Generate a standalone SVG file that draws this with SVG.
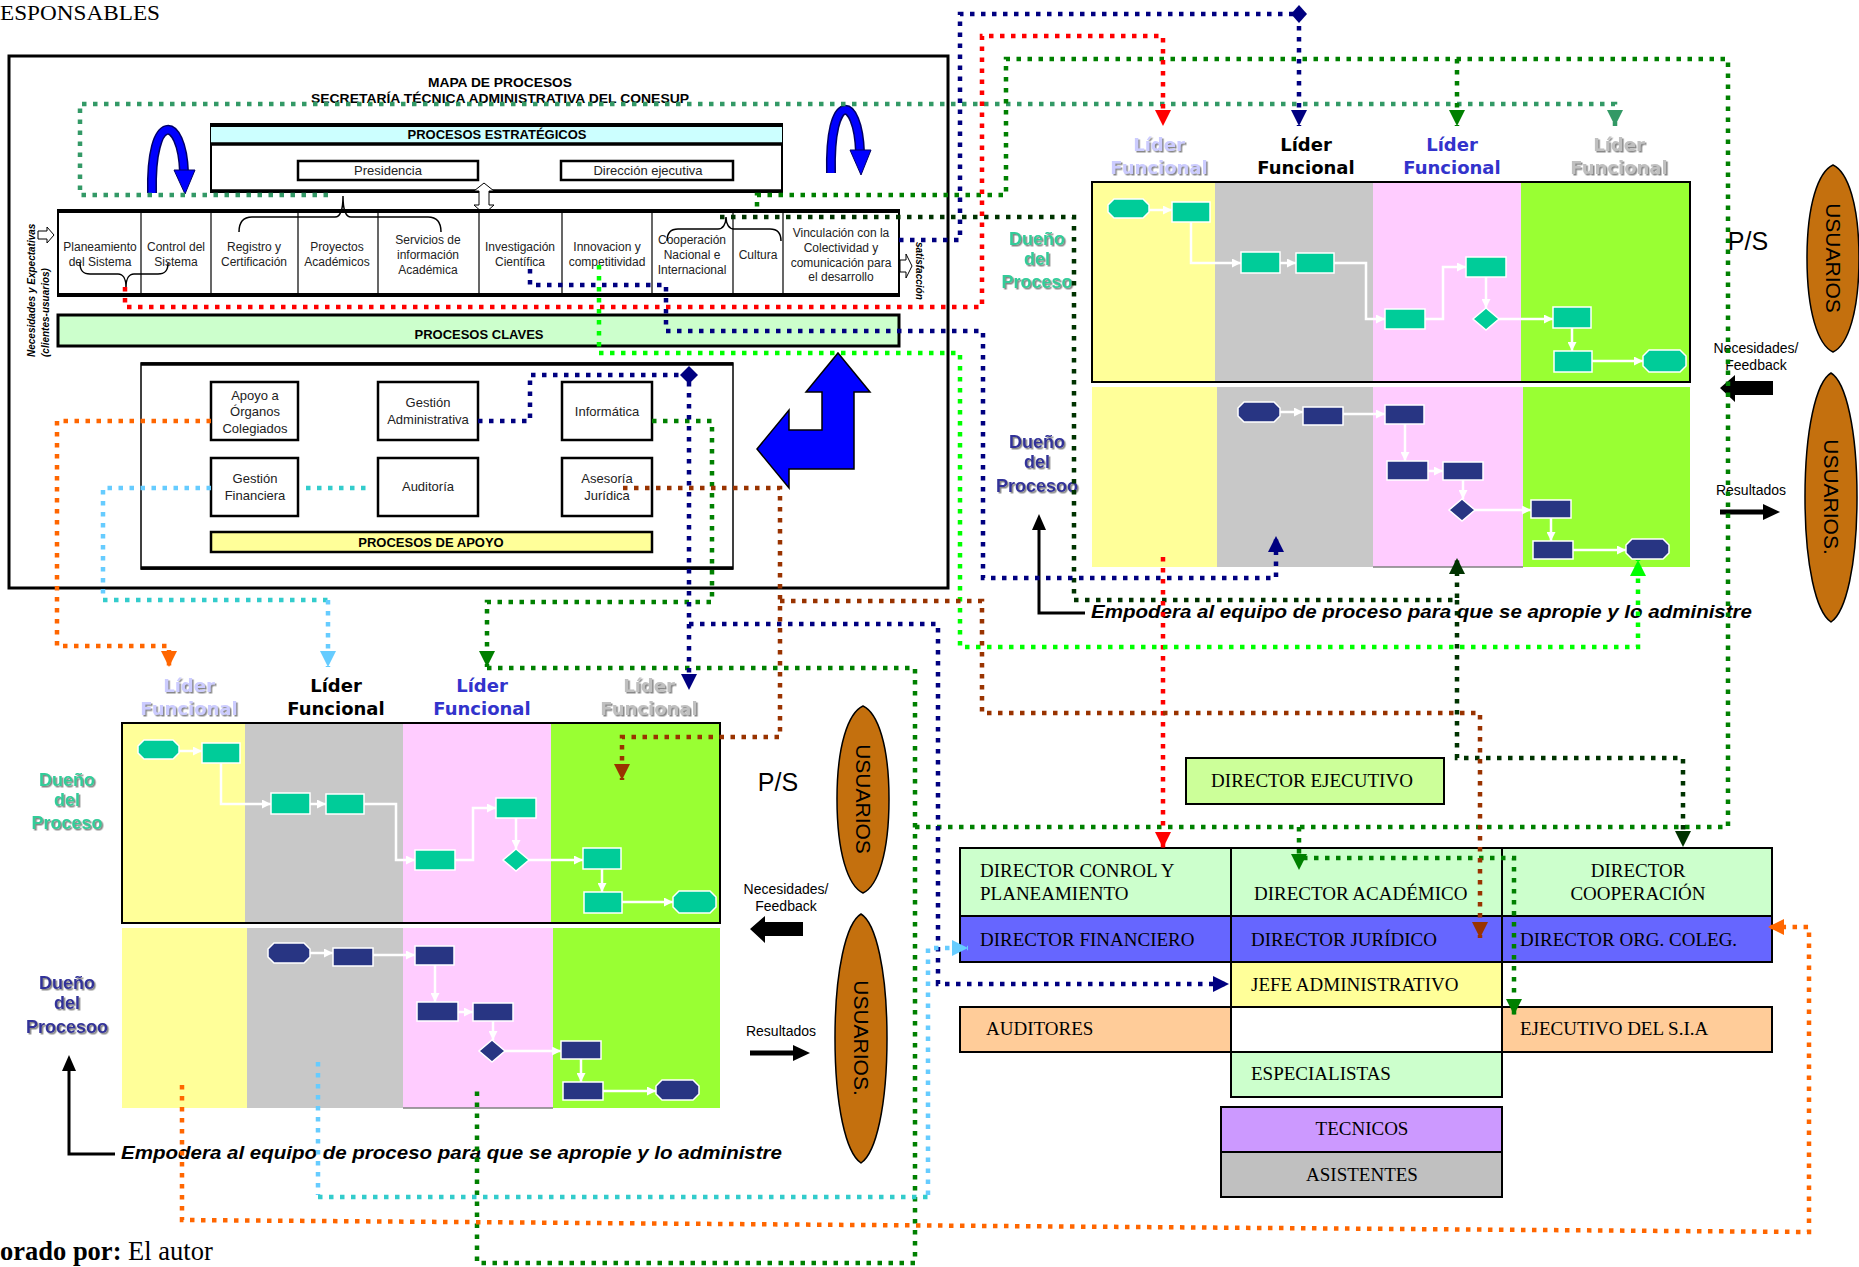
<svg xmlns="http://www.w3.org/2000/svg" xmlns:xlink="http://www.w3.org/1999/xlink" width="1859" height="1267" viewBox="0 0 1859 1267">
<style>
  .pm{font-family:"Liberation Sans",Arial,sans-serif;font-size:12px;fill:#222;text-anchor:middle}
  .sb{font-family:"Liberation Sans",Arial,sans-serif;font-size:13px;fill:#222;text-anchor:middle}
  .band{font-family:"Liberation Sans",Arial,sans-serif;font-size:13px;font-weight:bold;fill:#000;text-anchor:middle}
  .box{fill:#fff;stroke:#000;stroke-width:2.5}
  .thin{fill:none;stroke:#000;stroke-width:1.5}
  .org{stroke:#000;stroke-width:2}
  .ot{font-family:"Liberation Serif","Times New Roman",serif;font-size:19px;fill:#000}
  .dot{fill:none;stroke-width:4.5;stroke-dasharray:4.5 6.5}
  .wl{fill:none;stroke:#fff;stroke-width:2.5;marker-end:url(#ar-w)}
  .teal{fill:#00CC99;stroke:#fff;stroke-width:1.5}
  .nvf{fill:#283583;stroke:#fff;stroke-width:1.5}
  .lider{font-family:"DejaVu Sans",Verdana,sans-serif;font-size:18px;font-weight:bold;text-anchor:middle}
  .dueno{font-family:"Liberation Sans",Arial,sans-serif;font-size:18px;font-weight:bold;text-anchor:middle}
  .usr{fill:#C4700E;stroke:#000;stroke-width:1.5}
  .usrt{font-family:"Liberation Sans",Arial,sans-serif;font-size:21px;fill:#000;text-anchor:middle}
  .lab{font-family:"Liberation Sans",Arial,sans-serif;font-size:14px;fill:#000;text-anchor:middle}
  .red{stroke:#FF0000}.navy{stroke:#000080}.grn{stroke:#008000}.dkg{stroke:#003300}
  .sea{stroke:#339966}.lime{stroke:#00FF00}.brn{stroke:#993300}.org2{stroke:#FF6600}
  .sky{stroke:#66CCFF}.turq{stroke:#33CCCC}
</style>
<defs>
  <filter id="shadow" x="-10%" y="-10%" width="130%" height="140%">
    <feDropShadow dx="1.5" dy="1.5" stdDeviation="0.4" flood-color="#888888"/>
  </filter>
  <marker id="ar-w" viewBox="0 0 10 10" refX="10" refY="5" markerWidth="9" markerHeight="9" markerUnits="userSpaceOnUse" orient="auto"><path d="M0,0 L10,5 L0,10 Z" fill="#fff"/></marker>
  <marker id="m-red" viewBox="0 0 16 16" refX="16" refY="8" markerWidth="16" markerHeight="16" markerUnits="userSpaceOnUse" orient="auto"><path d="M0,0 L16,8 L0,16 Z" fill="#FF0000"/></marker>
  <marker id="m-navy" viewBox="0 0 16 16" refX="16" refY="8" markerWidth="16" markerHeight="16" markerUnits="userSpaceOnUse" orient="auto"><path d="M0,0 L16,8 L0,16 Z" fill="#000080"/></marker>
  <marker id="m-grn" viewBox="0 0 16 16" refX="16" refY="8" markerWidth="16" markerHeight="16" markerUnits="userSpaceOnUse" orient="auto"><path d="M0,0 L16,8 L0,16 Z" fill="#008000"/></marker>
  <marker id="m-dkg" viewBox="0 0 16 16" refX="16" refY="8" markerWidth="16" markerHeight="16" markerUnits="userSpaceOnUse" orient="auto"><path d="M0,0 L16,8 L0,16 Z" fill="#003300"/></marker>
  <marker id="m-sea" viewBox="0 0 16 16" refX="16" refY="8" markerWidth="16" markerHeight="16" markerUnits="userSpaceOnUse" orient="auto"><path d="M0,0 L16,8 L0,16 Z" fill="#339966"/></marker>
  <marker id="m-lime" viewBox="0 0 16 16" refX="16" refY="8" markerWidth="16" markerHeight="16" markerUnits="userSpaceOnUse" orient="auto"><path d="M0,0 L16,8 L0,16 Z" fill="#00FF00"/></marker>
  <marker id="m-brn" viewBox="0 0 16 16" refX="16" refY="8" markerWidth="16" markerHeight="16" markerUnits="userSpaceOnUse" orient="auto"><path d="M0,0 L16,8 L0,16 Z" fill="#993300"/></marker>
  <marker id="m-org" viewBox="0 0 16 16" refX="16" refY="8" markerWidth="16" markerHeight="16" markerUnits="userSpaceOnUse" orient="auto"><path d="M0,0 L16,8 L0,16 Z" fill="#FF6600"/></marker>
  <marker id="m-sky" viewBox="0 0 16 16" refX="16" refY="8" markerWidth="16" markerHeight="16" markerUnits="userSpaceOnUse" orient="auto"><path d="M0,0 L16,8 L0,16 Z" fill="#66CCFF"/></marker>

  <!-- Swimlane module: lanes, flows, owner labels, users and feedback arrows -->
  <g id="swimlane">
    <!-- upper lane band -->
    <rect x="1092" y="182" width="123" height="200" fill="#FFFF99"/>
    <rect x="1215" y="182" width="158" height="200" fill="#C8C8C8"/>
    <rect x="1373" y="182" width="148" height="200" fill="#FFCCFF"/>
    <rect x="1521" y="182" width="169" height="200" fill="#99FF33"/>
    <rect x="1092" y="182" width="598" height="200" fill="none" stroke="#000" stroke-width="2"/>
    <!-- lower lane band -->
    <rect x="1092" y="387" width="125" height="180" fill="#FFFF99"/>
    <rect x="1217" y="387" width="156" height="180" fill="#C8C8C8"/>
    <rect x="1373" y="387" width="150" height="180" fill="#FFCCFF"/>
    <rect x="1523" y="387" width="167" height="180" fill="#99FF33"/>
    <line x1="1373" y1="567" x2="1523" y2="567" stroke="#808080" stroke-width="1.5"/>

    <!-- upper flow -->
    <path class="wl" d="M1149,210 H1172"/>
    <path class="wl" d="M1191,222 V263 H1241"/>
    <path class="wl" d="M1280,263 H1296"/>
    <path class="wl" d="M1334,263 H1366 V319 H1385"/>
    <path class="wl" d="M1425,319 H1443 V267 H1466"/>
    <path class="wl" d="M1486,277 V308"/>
    <path class="wl" d="M1499,319 H1553"/>
    <path class="wl" d="M1572,328 V351"/>
    <path class="wl" d="M1592,361 H1643"/>
    <polygon class="teal" points="1114,199 1143,199 1149,205 1149,212 1143,218 1114,218 1108,212 1108,205"/>
    <rect class="teal" x="1172" y="202" width="38" height="20"/>
    <rect class="teal" x="1241" y="252" width="39" height="21"/>
    <rect class="teal" x="1296" y="253" width="38" height="20"/>
    <rect class="teal" x="1385" y="309" width="40" height="20"/>
    <rect class="teal" x="1466" y="257" width="40" height="20"/>
    <polygon class="teal" points="1486,308 1499,319 1486,330 1473,319"/>
    <rect class="teal" x="1553" y="307" width="38" height="21"/>
    <rect class="teal" x="1554" y="351" width="38" height="21"/>
    <polygon class="teal" points="1649,350 1680,350 1686,356 1686,366 1680,372 1649,372 1643,366 1643,356"/>

    <!-- lower flow -->
    <path class="wl" d="M1280,412 H1303"/>
    <path class="wl" d="M1343,414 H1385"/>
    <path class="wl" d="M1405,424 V461"/>
    <path class="wl" d="M1428,471 H1443"/>
    <path class="wl" d="M1463,480 V499"/>
    <path class="wl" d="M1475,510 H1531"/>
    <path class="wl" d="M1551,518 V541"/>
    <path class="wl" d="M1573,550 H1626"/>
    <polygon class="nvf" points="1244,402 1274,402 1280,408 1280,416 1274,422 1244,422 1238,416 1238,408"/>
    <rect class="nvf" x="1303" y="407" width="40" height="18"/>
    <rect class="nvf" x="1385" y="405" width="39" height="19"/>
    <rect class="nvf" x="1387" y="461" width="41" height="19"/>
    <rect class="nvf" x="1443" y="462" width="40" height="18"/>
    <polygon class="nvf" points="1462,499 1475,510 1462,521 1449,510"/>
    <rect class="nvf" x="1531" y="500" width="40" height="18"/>
    <rect class="nvf" x="1533" y="541" width="40" height="18"/>
    <polygon class="nvf" points="1632,539 1663,539 1669,545 1669,553 1663,559 1632,559 1626,553 1626,545"/>

    <!-- functional leaders -->
    <g class="lider">
      <g fill="#CCCCFF" filter="url(#shadow)"><text x="1159" y="151">Líder</text><text x="1159" y="174">Funcional</text></g>
      <g fill="#000"><text x="1306" y="151">Líder</text><text x="1306" y="174">Funcional</text></g>
      <g fill="#3333CC"><text x="1452" y="151">Líder</text><text x="1452" y="174">Funcional</text></g>
      <g fill="#C0C0C0" filter="url(#shadow)"><text x="1619" y="151">Líder</text><text x="1619" y="174">Funcional</text></g>
    </g>
    <!-- process owners -->
    <g class="dueno" fill="#33CC99" filter="url(#shadow)">
      <text x="1037" y="245">Dueño</text><text x="1037" y="265">del</text><text x="1037" y="288">Proceso</text>
    </g>
    <g class="dueno" fill="#333399" filter="url(#shadow)">
      <text x="1037" y="448">Dueño</text><text x="1037" y="468">del</text><text x="1037" y="492">Procesoo</text>
    </g>

    <!-- empowerment arrow and caption -->
    <path d="M1085,613 H1039 V526" fill="none" stroke="#000" stroke-width="3"/>
    <polygon points="1032,530 1039,514 1046,530" fill="#000"/>
    <text x="1091" y="618" textLength="661" lengthAdjust="spacingAndGlyphs" font-family="Liberation Sans, Arial, sans-serif" font-size="18" font-weight="bold" font-style="italic" fill="#000">Empodera al equipo de proceso para que se apropie y lo administre</text>

    <!-- users and exchange -->
    <text x="1748" y="250" font-family="Liberation Sans, Arial, sans-serif" font-size="25" text-anchor="middle">P/S</text>
    <text class="lab" x="1756" y="353">Necesidades/</text>
    <text class="lab" x="1756" y="370">Feedback</text>
    <polygon points="1720,388 1735,375 1735,381 1773,381 1773,395 1735,395 1735,402" fill="#000"/>
    <text class="lab" x="1751" y="495">Resultados</text>
    <line x1="1720" y1="512" x2="1766" y2="512" stroke="#000" stroke-width="5"/>
    <polygon points="1763,504 1780,512 1763,520" fill="#000"/>
    <path class="usr" d="M1833,165 C1848,172 1859,205 1859,258 C1859,312 1848,345 1833,352 C1818,345 1807,312 1807,258 C1807,205 1818,172 1833,165 Z"/>
    <text class="usrt" transform="translate(1833,258) rotate(90)" dy="0.35em">USUARIOS</text>
    <path class="usr" d="M1831,373 C1846,382 1857,430 1857,497 C1857,565 1846,612 1831,622 C1816,612 1805,565 1805,497 C1805,430 1816,382 1831,373 Z"/>
    <text class="usrt" transform="translate(1831,497) rotate(90)" dy="0.35em">USUARIOS.</text>
  </g>
</defs>

<!-- page fragments -->
<text x="0" y="19.5" font-family="Liberation Serif, Times New Roman, serif" font-size="21" textLength="160" lengthAdjust="spacingAndGlyphs">ESPONSABLES</text>
<text x="0" y="1260" font-family="Liberation Serif, Times New Roman, serif" font-size="26.5"><tspan font-weight="bold">orado por:</tspan> El autor</text>

<!-- Process map -->
<g id="process-map">
  <rect x="9" y="56" width="939" height="532" fill="#fff" stroke="#000" stroke-width="3"/>
  <text x="500" y="87" class="band" textLength="144" lengthAdjust="spacingAndGlyphs">MAPA DE PROCESOS</text>
  <text x="500" y="103" class="band" textLength="378" lengthAdjust="spacingAndGlyphs">SECRETARÍA TÉCNICA ADMINISTRATIVA DEL CONESUP</text>

  <g id="strategic">
    <rect x="211" y="124" width="571" height="68" fill="#fff" stroke="#000" stroke-width="2"/>
    <rect x="211" y="125" width="571" height="19" fill="#CCFFFF"/>
    <line x1="211" y1="125" x2="782" y2="125" stroke="#000" stroke-width="4"/>
    <line x1="211" y1="144" x2="782" y2="144" stroke="#000" stroke-width="3.5"/>
    <line x1="211" y1="191" x2="782" y2="191" stroke="#000" stroke-width="3.5"/>
    <text x="497" y="139" class="band">PROCESOS ESTRATÉGICOS</text>
    <rect x="298" y="161" width="180" height="19" class="box"/>
    <text x="388" y="175" class="sb">Presidencia</text>
    <rect x="561" y="161" width="172" height="19" class="box"/>
    <text x="648" y="175" class="sb">Dirección ejecutiva</text>
  </g>

  <!-- renewal arrows -->
  <path d="M152,193 C150,110 182,115 184,172" fill="none" stroke="#000066" stroke-width="10"/>
  <path d="M152,193 C150,110 182,115 184,172" fill="none" stroke="#0000FF" stroke-width="7"/>
  <polygon points="174,170 195,170 185,194" fill="#0000FF" stroke="#000066" stroke-width="1"/>
  <path d="M831,173 C829,90 858,95 860,152" fill="none" stroke="#000066" stroke-width="10"/>
  <path d="M831,173 C829,90 858,95 860,152" fill="none" stroke="#0000FF" stroke-width="7"/>
  <polygon points="850,150 871,150 861,175" fill="#0000FF" stroke="#000066" stroke-width="1"/>

  <!-- link between strategic and key processes -->
  <polygon points="484,183 494,191 489,191 489,205 494,205 484,214 474,205 479,205 479,191 474,191" fill="#fff" stroke="#000" stroke-width="1"/>

  <g id="key-processes">
    <rect x="58" y="210" width="841" height="86" fill="#fff" stroke="#000" stroke-width="2"/>
    <line x1="58" y1="211" x2="899" y2="211" stroke="#000" stroke-width="4"/>
    <line x1="58" y1="295" x2="899" y2="295" stroke="#000" stroke-width="4"/>
    <g stroke="#000" stroke-width="1.2">
      <line x1="141" y1="211" x2="141" y2="295"/><line x1="211" y1="211" x2="211" y2="295"/>
      <line x1="298" y1="211" x2="298" y2="295"/><line x1="378" y1="211" x2="378" y2="295"/>
      <line x1="479" y1="211" x2="479" y2="295"/><line x1="562" y1="211" x2="562" y2="295"/>
      <line x1="652" y1="211" x2="652" y2="295"/><line x1="733" y1="211" x2="733" y2="295"/>
      <line x1="783" y1="211" x2="783" y2="295"/>
    </g>
    <text class="pm" x="100" y="251">Planeamiento</text><text class="pm" x="100" y="266">del Sistema</text>
    <text class="pm" x="176" y="251">Control del</text><text class="pm" x="176" y="266">Sistema</text>
    <text class="pm" x="254" y="251">Registro y</text><text class="pm" x="254" y="266">Certificación</text>
    <text class="pm" x="337" y="251">Proyectos</text><text class="pm" x="337" y="266">Académicos</text>
    <text class="pm" x="428" y="244">Servicios de</text><text class="pm" x="428" y="259">información</text><text class="pm" x="428" y="274">Académica</text>
    <text class="pm" x="520" y="251">Investigación</text><text class="pm" x="520" y="266">Científica</text>
    <text class="pm" x="607" y="251">Innovacion y</text><text class="pm" x="607" y="266">competitividad</text>
    <text class="pm" x="692" y="244">Cooperación</text><text class="pm" x="692" y="259">Nacional e</text><text class="pm" x="692" y="274">Internacional</text>
    <text class="pm" x="758" y="259">Cultura</text>
    <text class="pm" x="841" y="237">Vinculación con la</text><text class="pm" x="841" y="252">Colectividad y</text>
    <text class="pm" x="841" y="267">comunicación para</text><text class="pm" x="841" y="281">el desarrollo</text>
    <!-- grouping braces -->
    <path class="thin" d="M239,232 C239,221 244,217 252,217 L335,217 C340,217 343,210 343,196 C343,210 346,217 351,217 L428,217 C436,217 441,221 441,232"/>
    <path class="thin" d="M80,263 C80,271 83,274 90,274 L118,274 C123,274 126,279 126,287 C126,279 129,274 134,274 L158,274 C165,274 168,271 168,263"/>
    <path class="thin" d="M667,241 C667,233 670,229 678,229 L718,229 C723,229 726,224 726,217 C726,224 729,229 734,229 L770,229 C778,229 781,233 781,241"/>
  </g>

  <!-- client input / satisfaction output -->
  <text transform="translate(35,357) rotate(-90)" font-family="Liberation Sans, Arial, sans-serif" font-size="10" font-weight="bold" font-style="italic">Necesidades y Expectativas</text>
  <text transform="translate(49,357) rotate(-90)" font-family="Liberation Sans, Arial, sans-serif" font-size="10" font-weight="bold" font-style="italic">(clientes-usuarios)</text>
  <polygon points="38,231 47,231 47,227 54,235 47,243 47,239 38,239" fill="#fff" stroke="#000" stroke-width="1"/>
  <text transform="translate(916,242) rotate(90)" font-family="Liberation Sans, Arial, sans-serif" font-size="10" font-weight="bold" font-style="italic">satisfacción</text>
  <polygon points="900,260 906,260 906,254 912,266 906,278 906,272 900,272" fill="#fff" stroke="#000" stroke-width="1"/>

  <g id="key-band">
    <rect x="58" y="315" width="841" height="31" fill="#CCFFCC" stroke="#000" stroke-width="3"/>
    <text x="479" y="339" class="band">PROCESOS CLAVES</text>
  </g>

  <g id="support">
    <rect x="141" y="363" width="592" height="206" fill="#fff" stroke="#000" stroke-width="1.5"/>
    <line x1="141" y1="364" x2="733" y2="364" stroke="#000" stroke-width="3.5"/>
    <line x1="141" y1="568" x2="733" y2="568" stroke="#000" stroke-width="3.5"/>
    <g id="apoyo-organos"><rect class="box" x="211" y="382" width="87" height="58"/>
      <text class="sb" x="255" y="400">Apoyo a</text><text class="sb" x="255" y="416">Órganos</text><text class="sb" x="255" y="433">Colegiados</text></g>
    <g id="gestion-admin"><rect class="box" x="378" y="382" width="100" height="58"/>
      <text class="sb" x="428" y="407">Gestión</text><text class="sb" x="428" y="424">Administrativa</text></g>
    <g id="informatica"><rect class="box" x="562" y="382" width="90" height="58"/>
      <text class="sb" x="607" y="416">Informática</text></g>
    <g id="gestion-fin"><rect class="box" x="211" y="458" width="87" height="58"/>
      <text class="sb" x="255" y="483">Gestión</text><text class="sb" x="255" y="500">Financiera</text></g>
    <g id="auditoria"><rect class="box" x="378" y="458" width="100" height="58"/>
      <text class="sb" x="428" y="491">Auditoría</text></g>
    <g id="asesoria"><rect class="box" x="562" y="458" width="90" height="58"/>
      <text class="sb" x="607" y="483">Asesoría</text><text class="sb" x="607" y="500">Jurídica</text></g>
    <rect x="211" y="532" width="441" height="20" fill="#FFFF99" stroke="#000" stroke-width="2.5"/>
    <text x="431" y="547" class="band">PROCESOS DE APOYO</text>
  </g>

  <!-- deployment arrow -->
  <polygon points="838,353 870,392 854,392 854,469 789,469 789,488 757,449 789,410 789,430 822,430 822,392 806,392" fill="#0000FF" stroke="#000" stroke-width="1.5"/>
</g>

<!-- Swimlane modules -->
<use id="lane-top-right" xlink:href="#swimlane" href="#swimlane"/>
<use id="lane-bottom-left" xlink:href="#swimlane" href="#swimlane" transform="translate(-970,541)"/>

<!-- Organisation chart -->
<g id="org-chart">
  <g id="dir-ejecutivo"><rect class="org" x="1186" y="758" width="258" height="46" fill="#CCFF99"/>
    <text class="ot" x="1312" y="787" text-anchor="middle">DIRECTOR EJECUTIVO</text></g>
  <g id="dir-control"><rect class="org" x="960" y="848" width="271" height="68" fill="#CCFFCC"/>
    <text class="ot" x="980" y="877">DIRECTOR CONROL Y</text><text class="ot" x="980" y="900">PLANEAMIENTO</text></g>
  <g id="dir-academico"><rect class="org" x="1231" y="848" width="271" height="68" fill="#CCFFCC"/>
    <text class="ot" x="1254" y="900">DIRECTOR ACADÉMICO</text></g>
  <g id="dir-cooperacion"><rect class="org" x="1502" y="848" width="270" height="68" fill="#CCFFCC"/>
    <text class="ot" x="1638" y="877" text-anchor="middle">DIRECTOR</text><text class="ot" x="1638" y="900" text-anchor="middle">COOPERACIÓN</text></g>
  <g id="dir-financiero"><rect class="org" x="960" y="916" width="271" height="46" fill="#6666FF"/>
    <text class="ot" x="980" y="946">DIRECTOR FINANCIERO</text></g>
  <g id="dir-juridico"><rect class="org" x="1231" y="916" width="271" height="46" fill="#6666FF"/>
    <text class="ot" x="1251" y="946">DIRECTOR JURÍDICO</text></g>
  <g id="dir-org-coleg"><rect class="org" x="1502" y="916" width="270" height="46" fill="#6666FF"/>
    <text class="ot" x="1520" y="946">DIRECTOR ORG. COLEG.</text></g>
  <g id="jefe-admin"><rect class="org" x="1231" y="962" width="271" height="45" fill="#FFFF99"/>
    <text class="ot" x="1251" y="991">JEFE ADMINISTRATIVO</text></g>
  <g id="auditores"><rect class="org" x="960" y="1007" width="271" height="45" fill="#FFCC99"/>
    <text class="ot" x="986" y="1035">AUDITORES</text></g>
  <g id="blank-cell"><rect class="org" x="1231" y="1007" width="271" height="45" fill="#FFFFFF"/></g>
  <g id="ejecutivo-sia"><rect class="org" x="1502" y="1007" width="270" height="45" fill="#FFCC99"/>
    <text class="ot" x="1520" y="1035">EJECUTIVO DEL S.I.A</text></g>
  <g id="especialistas"><rect class="org" x="1231" y="1052" width="271" height="45" fill="#CCFFCC"/>
    <text class="ot" x="1251" y="1080">ESPECIALISTAS</text></g>
  <g id="tecnicos"><rect class="org" x="1221" y="1107" width="281" height="45" fill="#CC99FF"/>
    <text class="ot" x="1362" y="1135" text-anchor="middle">TECNICOS</text></g>
  <g id="asistentes"><rect class="org" x="1221" y="1152" width="281" height="45" fill="#C0C0C0"/>
    <text class="ot" x="1362" y="1181" text-anchor="middle">ASISTENTES</text></g>
</g>

<!-- Responsibility connectors -->
<g id="connectors">
  <path class="dot sea" d="M328,195 H80 V104 H1615 V126" marker-end="url(#m-sea)"/>

  <path class="dot grn" d="M652,421 H712 V602 H487 V667" marker-end="url(#m-grn)"/>
  <path class="dot grn" d="M487,668 H915 V1263 H477 V1085"/>
  <path class="dot grn" d="M915,827 H1728 V59 H1006 V195 H757 V210"/>
  <path class="dot grn" d="M1457,59 V126" marker-end="url(#m-grn)"/>
  <path class="dot grn" d="M1299,827 V870" marker-end="url(#m-grn)"/>
  <path class="dot grn" d="M1303,858 H1514 V1015" marker-end="url(#m-grn)"/>

  <path class="dot dkg" d="M720,217 H1074 V600 H1457 V558" marker-end="url(#m-dkg)"/>
  <path class="dot dkg" d="M1457,600 V758 H1683 V847" marker-end="url(#m-dkg)"/>

  <path class="dot navy" d="M530,269 V285 H666 V331 H983 V578 H1276 V536" marker-end="url(#m-navy)"/>
  <path class="dot navy" d="M899,240 H960 V14 H1299 V126" marker-end="url(#m-navy)"/>
  <polygon points="1299,5 1307,14 1299,23 1291,14" fill="#000080"/>
  <path class="dot navy" d="M478,421 H530 V375 H689 V690" marker-end="url(#m-navy)"/>
  <polygon points="689,366 698,375 689,384 680,375" fill="#000080"/>
  <path class="dot navy" d="M689,624 H938 V984 H1229" marker-end="url(#m-navy)"/>

  <path class="dot red" d="M125,287 V307 H982 V36 H1163 V126" marker-end="url(#m-red)"/>
  <path class="dot red" d="M1163,557 V848" marker-end="url(#m-red)"/>

  <path class="dot lime" d="M599,265 V353 H960 V647 H1638 V560" marker-end="url(#m-lime)"/>

  <path class="dot brn" d="M623,488 H780 V737 H622 V780" marker-end="url(#m-brn)"/>
  <path class="dot brn" d="M780,601 H982 V713 H1480 V938" marker-end="url(#m-brn)"/>

  <path class="dot org2" d="M211,421 H57 V646 H169 V667" marker-end="url(#m-org)"/>
  <path class="dot org2" d="M182,1085 V1220 L1809,1232 V927 H1768" marker-end="url(#m-org)"/>

  <path class="dot sky" d="M211,488 H103 V600"/>
  <path class="dot turq" d="M103,600 H328"/>
  <path class="dot sky" d="M328,600 V667" marker-end="url(#m-sky)"/>
  <path class="dot turq" d="M306,488 H372"/>
  <path class="dot sky" d="M318,1062 V1195"/>
  <path class="dot turq" d="M318,1197 H928"/>
  <path class="dot sky" d="M928,1195 V948 H968" marker-end="url(#m-sky)"/>
</g>
</svg>
